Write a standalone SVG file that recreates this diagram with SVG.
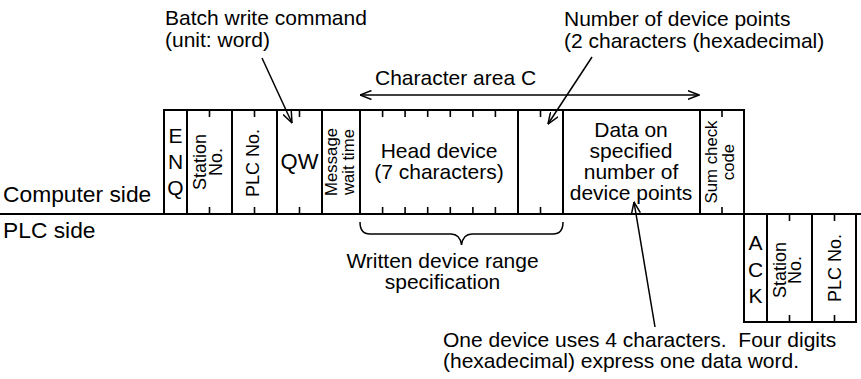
<svg xmlns="http://www.w3.org/2000/svg" width="861" height="379" viewBox="0 0 861 379">
<style>
text{font-family:"Liberation Sans",Arial,Helvetica,sans-serif;fill:#000}
.t{font-size:21px}
.big{font-size:22.8px}
.c{text-anchor:middle}
.r{font-size:18px;text-anchor:middle}
.s{font-size:16.8px;text-anchor:middle}
.box{fill:#fff;stroke:#000;stroke-width:2}
.tick{stroke:#000;stroke-width:1.6}
.ln{stroke:#000;stroke-width:2;fill:none}
.ld{stroke:#000;stroke-width:1.5;fill:none}
</style>
<defs>
<marker id="ah" viewBox="0 0 12 10" refX="11.5" refY="5" markerWidth="12" markerHeight="10" markerUnits="userSpaceOnUse" orient="auto-start-reverse">
<path d="M0,0.5 L11.5,5 L0,9.5" fill="none" stroke="#000" stroke-width="1.5"/>
</marker>
</defs>
<rect width="861" height="379" fill="#fff"/>

<g id="labels">
<text class="big" x="3" y="202">Computer side</text>
<text class="big" x="3" y="238">PLC side</text>
</g>

<g id="enq">
<rect class="box" x="164" y="110" width="23" height="104"/>
<text class="t c" x="175.5" y="143">E</text>
<text class="t c" x="175.5" y="169">N</text>
<text class="t c" x="175.5" y="195">Q</text>
</g>
<g id="station">
<rect class="box" x="187" y="110" width="45" height="104"/>
<line class="tick" x1="209.5" y1="110" x2="209.5" y2="117"/>
<line class="tick" x1="209.5" y1="214" x2="209.5" y2="207"/>
<text class="r" transform="translate(205.5,162) rotate(-90)">Station</text>
<text class="r" transform="translate(222,162) rotate(-90)">No.</text>
</g>
<g id="plcno">
<rect class="box" x="232" y="110" width="45" height="104"/>
<line class="tick" x1="254.5" y1="110" x2="254.5" y2="117"/>
<line class="tick" x1="254.5" y1="214" x2="254.5" y2="207"/>
<text class="r" transform="translate(259,163) rotate(-90)">PLC No.</text>
</g>
<g id="qw">
<rect class="box" x="277" y="110" width="45" height="104"/>
<line class="tick" x1="299.5" y1="110" x2="299.5" y2="117"/>
<line class="tick" x1="299.5" y1="214" x2="299.5" y2="207"/>
<text class="t c" x="299.5" y="169" style="font-size:22px">QW</text>
</g>
<g id="wait">
<rect class="box" x="322" y="110" width="38" height="104"/>
<text class="s" transform="translate(337,162) rotate(-90)">Message</text>
<text class="s" transform="translate(354,162) rotate(-90)">wait time</text>
</g>
<g id="head">
<rect class="box" x="360" y="110" width="158" height="104"/>
<g class="tick">
<line x1="382.6" y1="110" x2="382.6" y2="117"/><line x1="405.1" y1="110" x2="405.1" y2="117"/><line x1="427.7" y1="110" x2="427.7" y2="117"/><line x1="450.3" y1="110" x2="450.3" y2="117"/><line x1="472.9" y1="110" x2="472.9" y2="117"/><line x1="495.4" y1="110" x2="495.4" y2="117"/>
<line x1="382.6" y1="214" x2="382.6" y2="207"/><line x1="405.1" y1="214" x2="405.1" y2="207"/><line x1="427.7" y1="214" x2="427.7" y2="207"/><line x1="450.3" y1="214" x2="450.3" y2="207"/><line x1="472.9" y1="214" x2="472.9" y2="207"/><line x1="495.4" y1="214" x2="495.4" y2="207"/>
</g>
<text class="t c" x="439" y="158">Head device</text>
<text class="t c" x="439" y="179">(7 characters)</text>
</g>
<g id="points">
<rect class="box" x="518" y="110" width="45" height="104"/>
<line class="tick" x1="540.5" y1="110" x2="540.5" y2="117"/>
<line class="tick" x1="540.5" y1="214" x2="540.5" y2="207"/>
</g>
<g id="data">
<rect class="box" x="563" y="110" width="137" height="104"/>
<text class="t c" x="631" y="137">Data on</text>
<text class="t c" x="631" y="158">specified</text>
<text class="t c" x="631" y="179">number of</text>
<text class="t c" x="631" y="200">device points</text>
</g>
<g id="sum">
<rect class="box" x="700" y="110" width="44" height="104"/>
<line class="tick" x1="722" y1="110" x2="722" y2="117"/>
<line class="tick" x1="722" y1="214" x2="722" y2="207"/>
<text class="s" transform="translate(717,162) rotate(-90)">Sum check</text>
<text class="s" transform="translate(734,162) rotate(-90)">code</text>
</g>

<g id="ack">
<rect class="box" x="744" y="214" width="23" height="108"/>
<text class="t c" x="755.5" y="250">A</text>
<text class="t c" x="755.5" y="277">C</text>
<text class="t c" x="755.5" y="303">K</text>
</g>
<g id="plc-station">
<rect class="box" x="767" y="214" width="45" height="108"/>
<line class="tick" x1="789.5" y1="214" x2="789.5" y2="221"/>
<line class="tick" x1="789.5" y1="322" x2="789.5" y2="315"/>
<text class="r" transform="translate(785.5,270) rotate(-90)">Station</text>
<text class="r" transform="translate(801,270) rotate(-90)">No.</text>
</g>
<g id="plc-plcno">
<rect class="box" x="812" y="214" width="44" height="108"/>
<line class="tick" x1="834.5" y1="214" x2="834.5" y2="221"/>
<line class="tick" x1="834.5" y1="322" x2="834.5" y2="315"/>
<text class="r" transform="translate(841,268) rotate(-90)">PLC No.</text>
</g>

<g id="connectors">
<line class="ln" x1="0" y1="214" x2="861" y2="214"/>
<line class="ld" x1="262" y1="58" x2="292" y2="123" marker-end="url(#ah)"/>
<line class="ld" x1="592" y1="57" x2="548" y2="124" marker-end="url(#ah)"/>
<line class="ld" x1="360" y1="95" x2="699" y2="95" marker-start="url(#ah)" marker-end="url(#ah)"/>
<line class="ld" x1="655" y1="327" x2="634" y2="202" marker-end="url(#ah)"/>
<path class="ld" d="M360,222 Q360,234 370,234 H451 Q460,234 461.5,245 Q463,234 472,234 H553 Q563,234 563,222"/>
</g>

<g id="annotations">
<text class="t" x="165" y="25">Batch write command</text>
<text class="t" x="165" y="47">(unit: word)</text>
<text class="t" x="564" y="26">Number of device points</text>
<text class="t" x="564" y="48">(2 characters (hexadecimal)</text>
<text class="t" x="375" y="85">Character area C</text>
<text class="t c" x="442.5" y="268">Written device range</text>
<text class="t c" x="442.5" y="289">specification</text>
<text class="t" x="443" y="347" xml:space="preserve">One device uses 4 characters.  Four digits</text>
<text class="t" x="443" y="368">(hexadecimal) express one data word.</text>
</g>
</svg>
